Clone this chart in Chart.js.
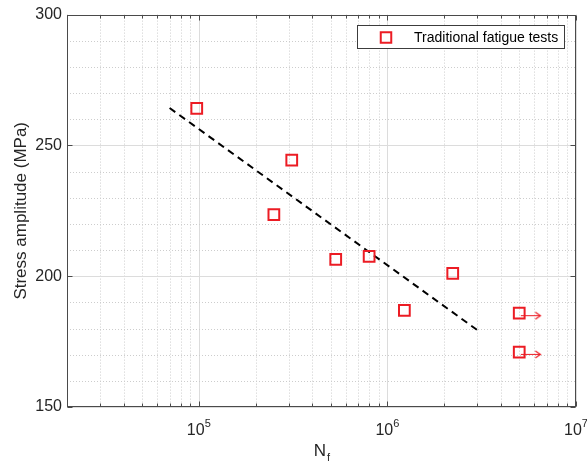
<!DOCTYPE html>
<html><head><meta charset="utf-8">
<script src="https://cdn.jsdelivr.net/npm/chart.js@4/dist/chart.umd.min.js"></script>
<style>html,body{margin:0;padding:0;background:#fff}#wrap{position:relative;width:587px;height:464px}</style>
</head><body><div id="wrap"><canvas id="c" width="587" height="464"></canvas></div>
<script>
// ---- data ----
const cyclesToFailure = [97500, 311000, 250000, 532000, 800000, 1230000, 2220000, 5000000, 5000000];
const stressAmplitude = [264.2, 244.4, 223.5, 206.4, 207.6, 186.9, 201.1, 185.9, 171.0];
const fitCycles = [70000, 3010000];
const fitStress = [264.3, 179.3];
const runoutCycles = [5100000, 6470000];
const runoutStressA = [184.9, 184.9];
const runoutStressB = [170.1, 170.1];
const xTickValues = [1e5, 1e6, 1e7];
const yTickLabels = [150, 200, 250, 300];
const legendLabel = 'Traditional fatigue tests';
const xTitle = 'N';
const xTitleSub = 'f';
const yTitle = 'Stress amplitude (MPa)';

const RED = 'rgb(236,28,36)';
const FONT = '"Liberation Sans", Arial, Helvetica, sans-serif';
const TXT = '#262626';

// arrowhead glyph for run-out arrows
const arrow = document.createElement('canvas');
arrow.width = 12; arrow.height = 9;
(function(){const g = arrow.getContext('2d'); g.strokeStyle = RED; g.lineWidth = 1.2;
  g.beginPath(); g.moveTo(1,1); g.lineTo(6,4.5); g.lineTo(1,8); g.stroke();})();

const pts = (xs, ys) => xs.map((x, i) => ({x, y: ys[i]}));

const gridPlugin = {
  id: 'matlabGrid',
  beforeDatasetsDraw(chart) {
    const {ctx, chartArea: a, scales: {x, y}} = chart;
    ctx.save();
    ctx.lineWidth = 1;
    const lo = Math.floor(Math.log10(x.min)), hi = Math.ceil(Math.log10(x.max));
    for (let d = lo; d <= hi; d++) {
      for (let m = 1; m <= 9; m++) {
        const v = m * Math.pow(10, d);
        if (v < x.min || v > x.max) continue;
        const px = Math.round(x.getPixelForValue(v)) + 0.5;
        ctx.beginPath();
        if (m === 1) { ctx.setLineDash([]); ctx.strokeStyle = '#dcdcdc'; }
        else { ctx.setLineDash([1, 2]); ctx.strokeStyle = '#cdcdcd'; }
        ctx.moveTo(px, a.top); ctx.lineTo(px, a.bottom); ctx.stroke();
      }
    }
    for (let v = y.min; v <= y.max; v += 10) {
      const py = Math.round(y.getPixelForValue(v)) + 0.5;
      ctx.beginPath();
      if (v % 50 === 0) { ctx.setLineDash([]); ctx.strokeStyle = '#dcdcdc'; }
      else { ctx.setLineDash([1, 2]); ctx.strokeStyle = '#cdcdcd'; }
      ctx.moveTo(a.left, py); ctx.lineTo(a.right, py); ctx.stroke();
    }
    ctx.restore();
  },
  afterDatasetsDraw(chart) {
    const {ctx, chartArea: a, scales: {x, y}} = chart;
    ctx.save();
    ctx.setLineDash([]);
    ctx.strokeStyle = '#4a4a4a';
    ctx.lineWidth = 1;
    const L = Math.round(a.left) + 0.5, R = Math.round(a.right) - 0.5;
    const T = Math.round(a.top) + 0.5, B = Math.round(a.bottom) - 0.5;
    ctx.strokeRect(L, T, R - L, B - T);
    const lo = Math.floor(Math.log10(x.min)), hi = Math.ceil(Math.log10(x.max));
    ctx.beginPath();
    for (let d = lo; d <= hi; d++) {
      for (let m = 1; m <= 9; m++) {
        const v = m * Math.pow(10, d);
        if (v < x.min || v > x.max) continue;
        const px = Math.round(x.getPixelForValue(v)) + 0.5;
        const len = m === 1 ? 5 : 3;
        ctx.moveTo(px, B); ctx.lineTo(px, B - len);
        ctx.moveTo(px, T); ctx.lineTo(px, T + len);
      }
    }
    for (const v of yTickLabels) {
      const py = Math.round(y.getPixelForValue(v)) + 0.5;
      ctx.moveTo(L, py); ctx.lineTo(L + 5, py);
      ctx.moveTo(R, py); ctx.lineTo(R - 5, py);
    }
    ctx.stroke();

    ctx.fillStyle = TXT;
    ctx.textBaseline = 'alphabetic';
    for (const v of xTickValues) {
      const px = x.getPixelForValue(v);
      const e = String(Math.round(Math.log10(v)));
      ctx.font = '16px ' + FONT; const w1 = ctx.measureText('10').width;
      ctx.font = '11px ' + FONT; const w2 = ctx.measureText(e).width;
      const s = px - (w1 + w2) / 2;
      ctx.font = '16px ' + FONT; ctx.textAlign = 'left';
      ctx.fillText('10', s, 435);
      ctx.font = '11px ' + FONT;
      ctx.fillText(e, s + w1, 427);
    }
    const cx = (a.left + a.right) / 2;
    ctx.font = '17px ' + FONT; const wn = ctx.measureText(xTitle).width;
    ctx.font = '11px ' + FONT; const wf = ctx.measureText(xTitleSub).width;
    const sx = cx - (wn + wf) / 2;
    ctx.font = '17px ' + FONT; ctx.fillText(xTitle, sx, 456);
    ctx.font = '11px ' + FONT; ctx.fillText(xTitleSub, sx + wn + 1, 461);

    const lx = 357.5, ly = 25.5, lw = 207, lh = 23;
    ctx.fillStyle = '#fff';
    ctx.fillRect(lx, ly, lw, lh);
    ctx.strokeStyle = '#3c3c3c';
    ctx.lineWidth = 1;
    ctx.strokeRect(lx, ly, lw, lh);
    ctx.strokeStyle = RED; ctx.lineWidth = 2;
    ctx.strokeRect(386 - 5.25, 37.5 - 5.25, 10.5, 10.5);
    ctx.fillStyle = '#000';
    ctx.font = '14px ' + FONT;
    ctx.textBaseline = 'middle';
    ctx.fillText(legendLabel, 414, 38);
    ctx.restore();
  }
};

new Chart(document.getElementById('c'), {
  type: 'scatter',
  data: {
    datasets: [
      { label: 'fit', type: 'line', data: pts(fitCycles, fitStress), borderColor: '#000', borderWidth: 2,
        borderDash: [7, 5], pointRadius: 0, fill: false, order: 2 },
      { label: 'runoutA', type: 'line', data: pts(runoutCycles, runoutStressA), borderColor: RED, borderWidth: 1,
        pointRadius: [0, 4], pointStyle: ['circle', arrow], fill: false, order: 3 },
      { label: 'runoutB', type: 'line', data: pts(runoutCycles, runoutStressB), borderColor: RED, borderWidth: 1,
        pointRadius: [0, 4], pointStyle: ['circle', arrow], fill: false, order: 3 },
      { label: legendLabel, data: pts(cyclesToFailure, stressAmplitude), pointStyle: 'rect', pointRadius: 7.6,
        pointHoverRadius: 7.6, borderColor: RED, backgroundColor: 'rgba(0,0,0,0)', borderWidth: 2, order: 1 }
    ]
  },
  options: {
    responsive: false, animation: false, devicePixelRatio: 1,
    layout: { padding: { left: 0, top: 13, right: 11, bottom: 0 } },
    plugins: { legend: { display: false }, tooltip: { enabled: false } },
    scales: {
      x: {
        type: 'logarithmic', min: 2e4, max: 1e7,
        grid: { display: false, drawTicks: false }, border: { display: false },
        ticks: { display: false },
        title: { display: false },
        afterFit(s) { s.height = 57; }
      },
      y: {
        type: 'linear', min: 150, max: 300,
        grid: { display: false, drawTicks: false }, border: { display: false },
        ticks: { stepSize: 50, padding: 5, color: TXT, font: { family: FONT, size: 16 },
          callback: (v) => yTickLabels.includes(v) ? String(v) : '' },
        title: { display: true, text: yTitle, color: TXT, font: { family: FONT, size: 17 }, padding: { top: 11, bottom: 0 } },
        afterFit(s) { s.width = 67; }
      }
    }
  },
  plugins: [gridPlugin]
});
</script>
</body></html>
